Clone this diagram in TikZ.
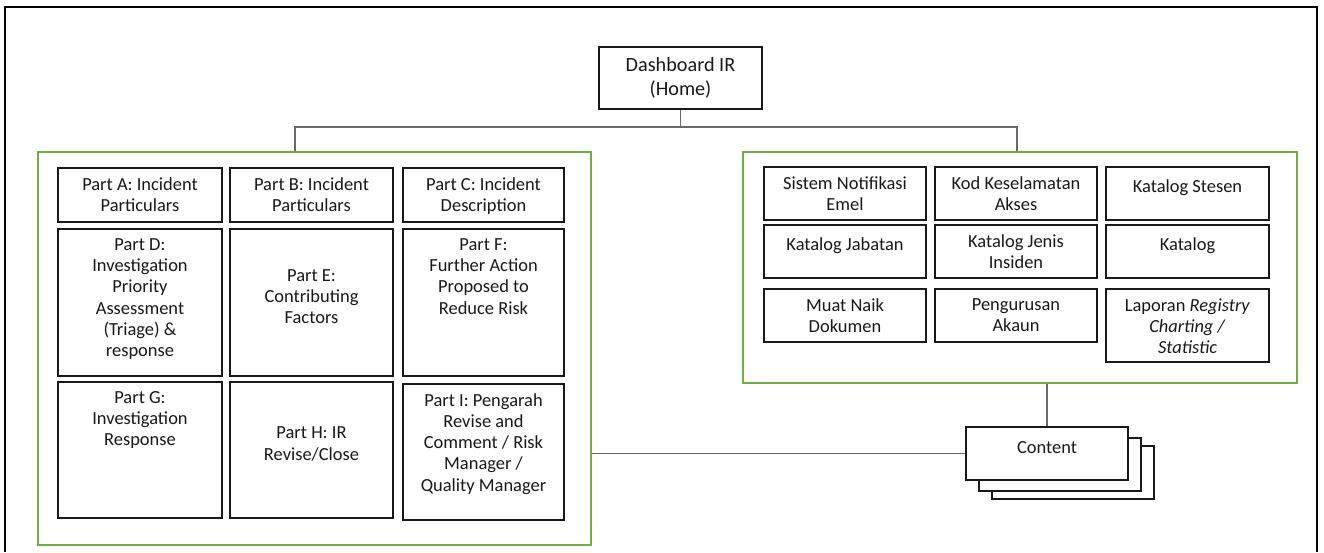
\documentclass[tikz,border=0pt]{standalone}
\usepackage{fontspec}
\setmainfont{Carlito}
\definecolor{panelgreen}{RGB}{112,173,71}
\definecolor{linkgray}{RGB}{105,105,105}
\tikzset{
  cell/.style 2 args={draw=black!90, line width=1.1pt, fill=white, inner sep=0pt,
    minimum width=#1*0.02cm, minimum height=#2*0.02cm},
  panel/.style 2 args={draw=panelgreen, line width=0.9pt, inner sep=0pt,
    minimum width=#1*0.02cm, minimum height=#2*0.02cm},
  ttl/.style={anchor=north, align=center, inner sep=0pt, yshift=-0.2cm,
    font=\fontsize{10.5}{12.1}\selectfont, text=black!90},
  mid/.style={anchor=center, align=center, inner sep=0pt, yshift=0.12cm,
    font=\fontsize{10.5}{12.1}\selectfont, text=black!90},
  link/.style={draw=linkgray, line width=0.6pt},
}
\begin{document}
\begin{tikzpicture}[x=0.02cm, y=-0.02cm]
        \useasboundingbox (0,0) rectangle (1324,552);
        % Frame
        \draw[line width=1pt] (5,552) -- (5,7) -- (1317,7) -- (1317,552);

        % Home
        \node[cell={163}{62}, align=center, text=black!90,
          font=\fontsize{11.5}{13.6}\selectfont] (home) at (680.5,78) {Dashboard IR\\(Home)};

        % Panels
        \node[panel={553}{393}] (left) at (314.5,348.5) {};
        \node[panel={554}{231}] (right) at (1020,267.5) {};

        % Report parts
        \node[cell={164}{54}, label={[ttl]north:{Part A: Incident\\Particulars}}] (partA) at (140,195) {};
        \node[cell={163}{54}, label={[ttl]north:{Part B: Incident\\Particulars}}] (partB) at (311.5,195) {};
        \node[cell={161}{54}, label={[ttl]north:{Part C: Incident\\Description}}] (partC) at (483.5,195) {};
        \node[cell={164}{147}, label={[ttl]north:{Part D:\\Investigation\\Priority\\Assessment\\(Triage) \&\\response}}] (partD) at (140,302.5) {};
        \node[cell={163}{147}, label={[mid]center:{Part E:\\Contributing\\Factors}}] (partE) at (311.5,302.5) {};
        \node[cell={161}{147}, label={[ttl]north:{Part F:\\Further Action\\Proposed to\\Reduce Risk}}] (partF) at (483.5,302.5) {};
        \node[cell={164}{136}, label={[ttl]north:{Part G:\\Investigation\\Response}}] (partG) at (140,450) {};
        \node[cell={163}{136}, label={[mid]center:{Part H: IR\\Revise/Close}}] (partH) at (311.5,450) {};
        \node[cell={161}{136}, label={[ttl]north:{Part I: Pengarah\\Revise and\\Comment / Risk\\Manager /\\Quality Manager}}] (partI) at (483.5,452) {};

        % Settings
        \node[cell={162}{53}, label={[ttl]north:{Sistem Notifikasi\\Emel}}] (notif) at (845,193.5) {};
        \node[cell={162}{53}, label={[ttl]north:{Kod Keselamatan\\Akses}}] (kod) at (1016,193.5) {};
        \node[cell={163}{53}, label={[ttl, yshift=-0.07cm]north:{Katalog Stesen}}] (stesen) at (1187.5,193.5) {};
        \node[cell={162}{53}, label={[ttl, yshift=-0.07cm]north:{Katalog Jabatan}}] (jabatan) at (845,251.5) {};
        \node[cell={162}{53}, label={[ttl]north:{Katalog Jenis\\Insiden}}] (jenis) at (1016,251.5) {};
        \node[cell={163}{53}, label={[ttl, yshift=-0.07cm]north:{Katalog}}] (katalog) at (1187.5,251.5) {};
        \node[cell={162}{53}, label={[ttl]north:{Muat Naik\\Dokumen}}] (muat) at (845,315.5) {};
        \node[cell={162}{53}, label={[ttl]north:{Pengurusan\\Akaun}}] (akaun) at (1016,315.5) {};
        \node[cell={163}{73}, label={[ttl]north:{Laporan \textit{Registry}\\\textit{Charting /}\\\textit{Statistic}}}] (laporan) at (1187.5,325.5) {};

        % Content stack
        \node[cell={162}{53}] (content3) at (1073,472.5) {};
        \node[cell={162}{53}] (content2) at (1060,464.5) {};
        \node[cell={162}{53}, label={[mid]center:{Content}}] (content) at (1047,453.5) {};

        % Links
        \coordinate (busL) at (295,127);
        \coordinate (busR) at (1017,127);
        \draw[link] (home.south) -- (home.south |- busL);
        \draw[link] (busL |- left.north) -- (busL) -- (busR) -- (busR |- right.north);
        \draw[link] (right.south -| content.north) -- (content.north);
        \draw[link] (left.east |- content.west) -- (content.west);
    \end{tikzpicture}
\end{document}
